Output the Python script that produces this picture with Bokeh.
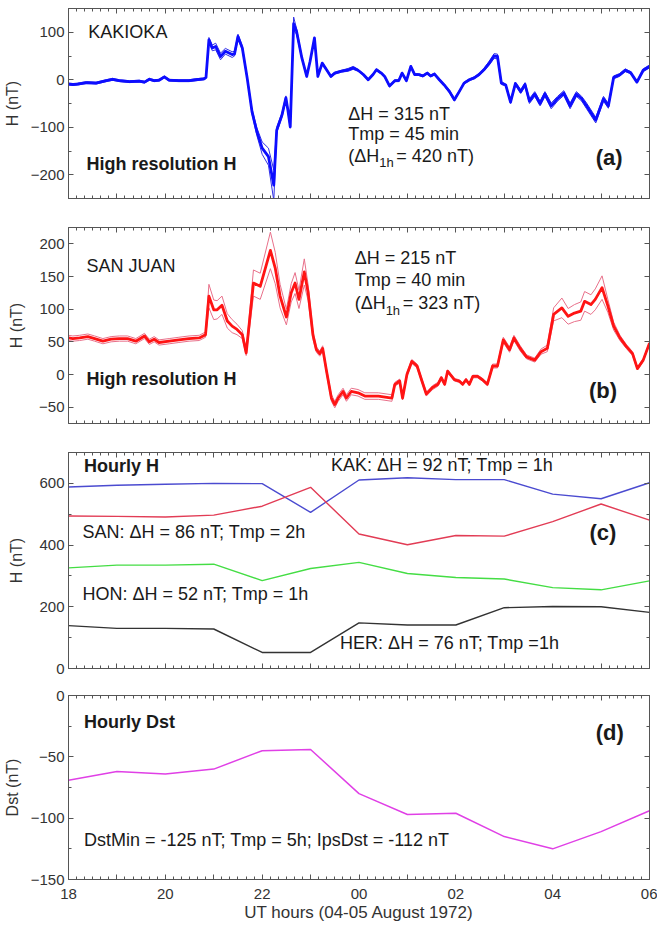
import numpy as np
from bokeh.embed import file_html
from bokeh.layouts import column
from bokeh.models import FixedTicker, Label, LinearAxis, Range1d
from bokeh.plotting import figure
from bokeh.resources import INLINE

# ---------------------------------------------------------------------------
# Hourly values, 18 UT (4 Aug) to 06 UT (5 Aug); hours after midnight run 24..30
# ---------------------------------------------------------------------------
hour_t = list(range(18, 31))
kak_hourly = [588, 594, 597, 600, 599, 506, 611, 618, 612, 612, 565, 550, 602]
san_hourly = [494, 493, 491, 497, 526, 587, 436, 401, 431, 429, 476, 533, 481]
hon_hourly = [326, 335, 335, 338, 285, 324, 344, 308, 295, 290, 262, 255, 284]
her_hourly = [139, 130, 130, 128, 52, 52, 148, 141, 141, 197, 201, 200, 182]
dst_hourly = [-69, -62, -64, -60, -45, -44, -80, -97, -96, -115, -125, -111, -94]

# ---------------------------------------------------------------------------
# High resolution H: time (h), H (nT) and half-width of the spread band (nT)
# ---------------------------------------------------------------------------
kak_t = [18.00, 18.09, 18.19, 18.37, 18.57, 18.78, 18.91, 19.05, 19.26, 19.46,
         19.57, 19.67, 19.77, 19.87, 19.98, 20.08, 20.28, 20.49, 20.63, 20.80,
         20.84, 20.90, 20.97, 21.04, 21.14, 21.24, 21.38, 21.43, 21.50, 21.59,
         21.69, 21.79, 21.89, 22.00, 22.13, 22.24, 22.30, 22.41, 22.49, 22.53,
         22.58, 22.65, 22.71, 22.82, 22.92, 22.99, 23.08, 23.15, 23.24, 23.33,
         23.42, 23.50, 23.64, 23.78, 23.88, 23.98, 24.09, 24.19, 24.29, 24.36,
         24.46, 24.53, 24.63, 24.74, 24.82, 24.89, 24.98, 25.07, 25.15, 25.23,
         25.32, 25.41, 25.48, 25.56, 25.66, 25.76, 25.87, 25.97, 26.07, 26.17,
         26.28, 26.38, 26.48, 26.58, 26.69, 26.79, 26.86, 26.94, 27.03, 27.13,
         27.23, 27.34, 27.43, 27.52, 27.63, 27.74, 27.84, 27.97, 28.10, 28.23,
         28.36, 28.49, 28.60, 28.70, 28.89, 29.05, 29.15, 29.26, 29.38, 29.50,
         29.61, 29.74, 29.87, 30.00]
kak_h = [-9, -10, -9, -6, -7, -2, 1, -2, -4, -3,
         -5, 1, -2, -1, 6, -1, -2, -2, 0, 2,
         5, 84, 67, 70, 49, 60, 53, 55, 91, 67,
         4, -67, -109, -144, -162, -222, -106, -74, -38, -63,
         -99, 118, 102, 46, 7, 39, 88, 7, 35, 21,
         7, 14, 18, 21, 25, 20, 11, 0, 11, 21,
         14, 7, -13, -2, -2, 14, -2, 28, 11, 11,
         8, 14, 8, 12, 0, -11, -25, -42, -25, -7,
         0, 4, 11, 21, 35, 50, 49, -7, -11, -47,
         -8, -25, -10, -45, -30, -50, -30, -55, -40, -28,
         -55, -30, -40, -55, -85, -40, -55, 5, 10, 20,
         15, -5, 20, 28]
kak_d = [2, 2, 2, 2, 2, 2, 2, 2, 2, 2,
         2, 2, 2, 2, 2, 2, 2, 2, 2, 2,
         2, 5, 6, 7, 7, 6, 6, 5, 5, 4,
         3, 5, 8, 13, 18, 32, 6, 5, 4, 4,
         3, 14, 6, 3, 2, 2, 2, 2, 2, 2,
         2, 2, 2, 3, 3, 2, 2, 2, 2, 2,
         2, 2, 2, 2, 2, 2, 2, 2, 2, 2,
         2, 2, 2, 2, 2, 2, 3, 3, 2, 2,
         2, 2, 2, 3, 4, 5, 5, 3, 2, 3,
         3, 4, 4, 5, 5, 5, 5, 6, 5, 5,
         6, 5, 5, 6, 6, 5, 5, 3, 3, 3,
         2, 2, 3, 3]

san_t = [18.00, 18.09, 18.23, 18.40, 18.54, 18.71, 18.88, 19.05, 19.22, 19.39,
         19.57, 19.67, 19.77, 19.87, 20.08, 20.28, 20.49, 20.70, 20.83, 20.90,
         21.00, 21.07, 21.17, 21.28, 21.38, 21.48, 21.59, 21.67, 21.82, 21.96,
         22.17, 22.27, 22.37, 22.50, 22.60, 22.68, 22.76, 22.87, 22.95, 23.05,
         23.12, 23.19, 23.25, 23.33, 23.43, 23.50, 23.57, 23.67, 23.74, 23.84,
         23.98, 24.12, 24.40, 24.68, 24.74, 24.84, 24.90, 24.99, 25.09, 25.20,
         25.30, 25.39, 25.52, 25.63, 25.70, 25.77, 25.83, 25.97, 26.07, 26.14,
         26.21, 26.28, 26.35, 26.45, 26.55, 26.65, 26.76, 26.86, 26.98, 27.11,
         27.20, 27.33, 27.46, 27.63, 27.76, 27.89, 28.02, 28.19, 28.32, 28.45,
         28.58, 28.66, 28.79, 28.88, 29.02, 29.14, 29.26, 29.39, 29.52, 29.65,
         29.75, 29.87, 30.00]
san_h = [56, 55, 56, 58, 55, 51, 54, 55, 55, 51,
         59, 50, 54, 49, 51, 53, 55, 56, 61, 120,
         99, 99, 106, 82, 74, 69, 61, 33, 140, 135,
         190, 163, 120, 88, 125, 140, 115, 157, 125, 60,
         38, 32, 40, 5, -36, -46, -36, -26, -36, -26,
         -28, -33, -33, -36, -15, -10, -36, 0, 20, 13,
         -10, -30, -20, -15, -5, -15, 5, -8, -10, -15,
         -8, -15, -3, -3, -8, -15, 13, 13, 53, 38,
         56, 40, 27, 22, 35, 40, 92, 102, 89, 94,
         97, 112, 107, 115, 133, 105, 74, 56, 43, 32,
         9, 22, 48]
san_d = [4, 4, 4, 4, 4, 4, 4, 4, 4, 4,
         4, 4, 4, 4, 4, 4, 4, 4, 4, 18,
         15, 14, 14, 11, 10, 8, 6, 4, 20, 20,
         28, 24, 18, 12, 14, 16, 14, 20, 12, 6,
         4, 4, 4, 4, 5, 5, 5, 5, 5, 5,
         5, 5, 5, 5, 3, 3, 3, 3, 3, 3,
         3, 3, 3, 3, 2, 2, 2, 2, 2, 2,
         2, 2, 2, 2, 2, 2, 3, 3, 4, 4,
         4, 4, 3, 3, 4, 5, 10, 15, 12, 13,
         14, 15, 15, 16, 18, 10, 6, 4, 3, 3,
         2, 2, 2]

# Axis tick layout: a major tick every hour, labels every two hours
x_tick_labels = {h: (f"{h % 24:02d}" if h % 2 == 0 else "") for h in hour_t}
x_minor = [18 + k / 6 for k in range(73)]

FONT = "Liberation Sans"
AXIS_COL = "#555555"
TICK_TEXT = "#333333"
TEXT_COL = "#1a1a1a"
W = 657


def panel(height, top, bottom, yr, yticks, yminor, ylabel, ylab_standoff, x_labels=False):
    p = figure(width=W, height=height, x_range=Range1d(18, 30), y_range=Range1d(*yr),
               x_axis_type=None, y_axis_type=None, output_backend="svg",
               toolbar_location=None, min_border_left=65, min_border_right=8,
               min_border_top=top, min_border_bottom=bottom)
    p.outline_line_color = None
    p.background_fill_color = "white"
    p.border_fill_color = "white"
    xt = FixedTicker(ticks=hour_t, minor_ticks=x_minor)
    yt = FixedTicker(ticks=yticks, minor_ticks=yminor)
    for loc, tk in (("below", xt), ("above", xt), ("left", yt), ("right", yt)):
        ax = LinearAxis(ticker=tk)
        ax.axis_line_color = AXIS_COL
        ax.axis_line_width = 1
        ax.major_tick_line_color = AXIS_COL
        ax.minor_tick_line_color = AXIS_COL
        ax.major_tick_in = 5
        ax.major_tick_out = 0
        ax.minor_tick_in = 3
        ax.minor_tick_out = 0
        ax.major_label_text_font = FONT
        ax.major_label_text_font_size = "15px"
        ax.major_label_text_color = TICK_TEXT
        show = (loc == "left") or (loc == "below" and x_labels)
        if not show:
            # tick marks only on the box sides without numbers
            ax.major_label_text_font_size = "0px"
            ax.major_label_text_color = None
            ax.major_label_text_alpha = 0
            ax.major_label_standoff = 0
        elif loc == "left":
            ax.major_label_standoff = 4
            ax.axis_label = ylabel
            ax.axis_label_text_font = FONT
            ax.axis_label_text_font_size = "16px"
            ax.axis_label_text_font_style = "normal"
            ax.axis_label_text_color = TICK_TEXT
            ax.axis_label_standoff = ylab_standoff
        else:
            ax.major_label_overrides = x_tick_labels
            ax.major_label_standoff = 9
            ax.axis_label = "UT hours (04-05 August 1972)"
            ax.axis_label_text_font = FONT
            ax.axis_label_text_font_size = "17px"
            ax.axis_label_text_font_style = "normal"
            ax.axis_label_text_color = TICK_TEXT
            ax.axis_label_standoff = 1
        p.add_layout(ax, loc)
    return p


def note(p, x, y, text, size="18px", bold=False, dx=0, dy=0):
    p.add_layout(Label(x=x, y=y, x_offset=dx, y_offset=dy, text=text,
                       text_font=FONT, text_font_size=size,
                       text_font_style="bold" if bold else "normal",
                       text_color=TEXT_COL, text_baseline="middle", text_align="left"))


def dh1h(p, x, y, rest):
    # "(ΔH_1h = ... nT)" written as three pieces to get the subscript
    note(p, x, y, "(\u0394H")
    note(p, x, y, "1h", size="13px", dx=31, dy=-7)
    note(p, x, y, rest, dx=48)


def band(p, t, h, d, main_col, edge_col):
    t = np.asarray(t, float)
    h = np.asarray(h, float)
    d = np.asarray(d, float)
    p.line(t, h + d, line_color=edge_col, line_width=1.0)
    p.line(t, h - d, line_color=edge_col, line_width=1.0)
    p.line(t, h, line_color=main_col, line_width=2.8, line_join="round")


# (a) Kakioka high resolution H
pa = panel(213, 8, 15, (-250, 150), [-200, -100, 0, 100], [-250, -150, -50, 50, 150],
           "H (nT)", 7)
band(pa, kak_t, kak_h, kak_d, "#0d0dff", "#3030e6")
note(pa, 18.41, 100, "KAKIOKA")
note(pa, 18.37, -178, "High resolution H", bold=True)
note(pa, 23.78, -73, "\u0394H = 315 nT")
note(pa, 23.78, -115, "Tmp = 45 min")
dh1h(pa, 23.78, -160, "= 420 nT)")
note(pa, 28.89, -163, "(a)", size="22px", bold=True)

# (b) San Juan high resolution H
pb = panel(225, 14, 15, (-75, 225), [-50, 0, 50, 100, 150, 200], [], "H (nT)", 11)
band(pb, san_t, san_h, san_d, "#ff1414", "#e8708a")
note(pb, 18.37, 166, "SAN JUAN")
note(pb, 18.37, -7, "High resolution H", bold=True)
note(pb, 23.91, 179, "\u0394H = 215 nT")
note(pb, 23.91, 145, "Tmp = 40 min")
dh1h(pb, 23.91, 109, "= 323 nT)")
note(pb, 28.75, -25, "(b)", size="22px", bold=True)

# (c) hourly H at four stations
pc = panel(244, 14, 14, (0, 700), [0, 200, 400, 600], [100, 300, 500, 700], "H (nT)", 11)
pc.line(hour_t, kak_hourly, line_color="#4b4bd0", line_width=1.4)
pc.line(hour_t, san_hourly, line_color="#e23c55", line_width=1.4)
pc.line(hour_t, hon_hourly, line_color="#44dd44", line_width=1.4)
pc.line(hour_t, her_hourly, line_color="#333333", line_width=1.4)
note(pc, 18.32, 656, "Hourly H", bold=True)
note(pc, 23.42, 658, "KAK: \u0394H = 92 nT; Tmp = 1h")
note(pc, 18.29, 442, "SAN: \u0394H = 86 nT; Tmp = 2h")
note(pc, 28.76, 442, "(c)", size="22px", bold=True)
note(pc, 18.29, 240, "HON: \u0394H = 52 nT; Tmp = 1h")
note(pc, 23.61, 83, "HER: \u0394H = 76 nT; Tmp =1h")

# (d) hourly Dst
pd_ = panel(245, 13, 48, (-150, 0), [-150, -100, -50, 0], [-125, -75, -25], "Dst (nT)", 7,
            x_labels=True)
pd_.line(hour_t, dst_hourly, line_color="#e040e6", line_width=1.5)
note(pd_, 18.32, -22, "Hourly Dst", bold=True)
note(pd_, 28.89, -30, "(d)", size="22px", bold=True)
note(pd_, 18.32, -118, "DstMin = -125 nT; Tmp = 5h; IpsDst = -112 nT")

layout = column(pa, pb, pc, pd_, spacing=0)
open("out.html", "w").write(file_html(layout, INLINE))
